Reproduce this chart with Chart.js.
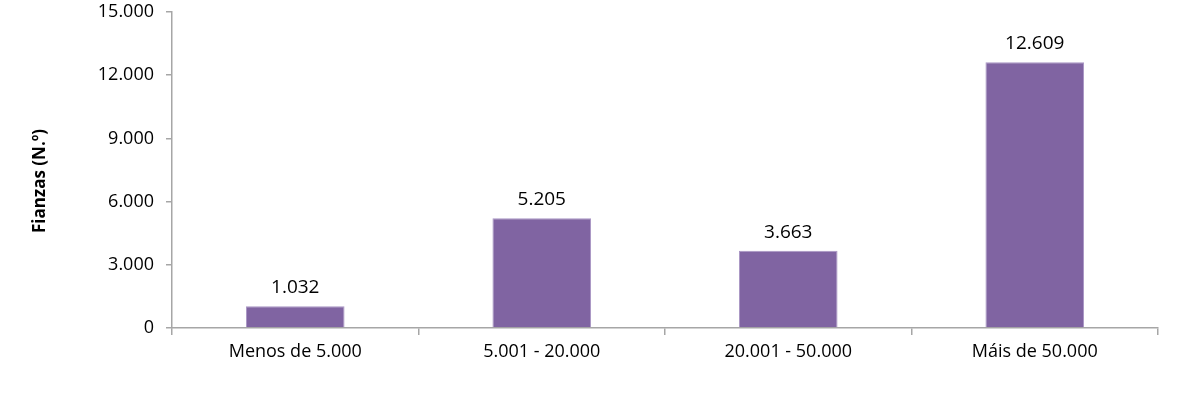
<!DOCTYPE html>
<html>
<head>
<meta charset="utf-8">
<script src="https://cdn.jsdelivr.net/npm/chart.js@4/dist/chart.umd.min.js"></script>
<style>
  html, body { margin: 0; padding: 0; background: #fff; }
  #wrap { width: 1200px; height: 394px; }
</style>
</head>
<body>
<div id="wrap"><canvas id="chart" width="1200" height="394"></canvas></div>
<script>
// datos del gráfico
const categories = ['Menos de 5.000', '5.001 - 20.000', '20.001 - 50.000', 'Máis de 50.000'];
const fianzas = [1032, 5205, 3663, 12609];
const yTicks = [0, 3000, 6000, 9000, 12000, 15000];
const yTitle = 'Fianzas (N.º)';

const fmt = v => v.toLocaleString('de-DE');

// etiquetas de valor encima de cada barra
const valueLabels = {
    id: 'valueLabels',
    afterDatasetsDraw(chart) {
        const ctx = chart.ctx;
        const meta = chart.getDatasetMeta(0);
        ctx.save();
        ctx.font = '19px "Open Sans"';
        ctx.fillStyle = '#000';
        ctx.textAlign = 'center';
        ctx.textBaseline = 'bottom';
        meta.data.forEach((bar, i) => {
            ctx.fillText(fmt(fianzas[i]), bar.x, bar.y - 9);
        });
        ctx.restore();
    }
};

// título del eje Y, centrado como en el original (algo más abajo que el área)
const axisTitle = {
    id: 'axisTitle',
    afterDraw(chart) {
        const ctx = chart.ctx;
        ctx.save();
        ctx.translate(40, 181);
        ctx.rotate(-Math.PI / 2);
        ctx.font = 'bold 17px "Open Sans"';
        ctx.fillStyle = '#000';
        ctx.textAlign = 'center';
        ctx.textBaseline = 'middle';
        ctx.fillText(yTitle, 0, 0);
        ctx.restore();
    }
};

new Chart(document.getElementById('chart'), {
    type: 'bar',
    data: {
        labels: categories,
        datasets: [{
            data: fianzas,
            backgroundColor: '#8064A2',
            borderColor: '#A996C4',
            borderWidth: 1,
            categoryPercentage: 0.8,
            barPercentage: 0.5
        }]
    },
    options: {
        responsive: false,
        animation: false,
        layout: { padding: { top: 12, right: 42, left: 0, bottom: 0 } },
        plugins: {
            legend: { display: false },
            tooltip: { enabled: false }
        },
        scales: {
            x: {
                offset: true,
                grid: {
                    offset: true,
                    drawOnChartArea: false,
                    drawTicks: true,
                    tickLength: 7,
                    color: '#A6A6A6',
                    lineWidth: 1.5
                },
                border: { color: '#A6A6A6', width: 1.5 },
                ticks: {
                    color: '#000',
                    font: { family: 'Open Sans', size: 18 },
                    padding: 6
                },
                afterFit(scale) {
                    scale.height = 66;
                    scale.paddingLeft = 0;
                    scale.paddingRight = 0;
                }
            },
            y: {
                min: 0,
                max: 15000,
                afterBuildTicks(scale) { scale.ticks = yTicks.map(v => ({ value: v })); },
                grid: {
                    drawOnChartArea: false,
                    drawTicks: true,
                    tickLength: 6,
                    color: '#A6A6A6',
                    lineWidth: 1.5
                },
                border: { color: '#A6A6A6', width: 1.5 },
                ticks: {
                    color: '#000',
                    font: { family: 'Open Sans', size: 18 },
                    padding: 12,
                    callback: v => fmt(v)
                },
                afterFit(scale) {
                    scale.width = 172;
                    scale.paddingTop = 0;
                    scale.paddingBottom = 0;
                }
            }
        }
    },
    plugins: [valueLabels, axisTitle]
});
</script>
</body>
</html>
